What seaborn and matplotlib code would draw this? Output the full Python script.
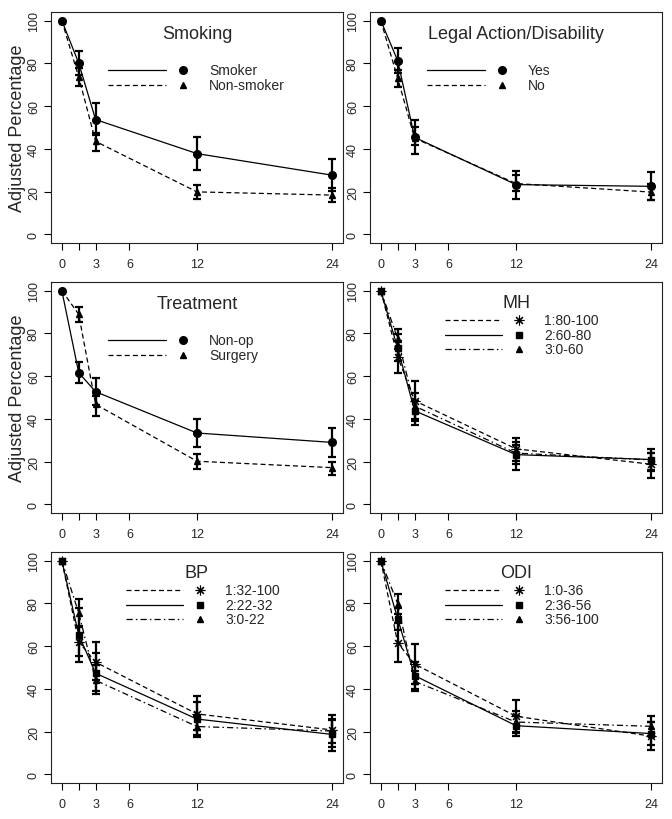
import matplotlib
matplotlib.use("Agg")
import matplotlib.pyplot as plt
import pandas as pd
import seaborn as sns

months = [0, 1.5, 3, 12, 24]
xtick_pos = [0, 1.5, 3, 6, 12, 24]
xtick_labels = ['0', '', '3', '6', '12', '24']
ytick_pos = [0, 20, 40, 60, 80, 100]

    # Smoking
smoker = [100, 80.1, 53.7, 37.8, 27.7]
smoker_lo = [100, 74.5, 46.5, 30.0, 20.2]
smoker_hi = [100, 85.8, 61.3, 45.7, 35.1]
nonsmoker = [100, 73.6, 43.5, 19.9, 18.4]
nonsmoker_lo = [100, 69.5, 39.2, 16.6, 15.4]
nonsmoker_hi = [100, 77.8, 47.4, 23.2, 21.5]

    # Legal Action/Disability
legal_yes = [100, 81.2, 45.4, 23.3, 22.5]
legal_yes_lo = [100, 75.5, 37.5, 16.8, 16.0]
legal_yes_hi = [100, 87.0, 53.3, 29.5, 29.1]
legal_no = [100, 73.0, 45.0, 23.8, 19.8]
legal_no_lo = [100, 69.0, 41.7, 20.2, 16.3]
legal_no_hi = [100, 77.0, 50.1, 27.7, 23.5]

    # Treatment
nonop = [100, 61.6, 52.7, 33.4, 29.0]
nonop_lo = [100, 56.6, 46.5, 27.0, 22.3]
nonop_hi = [100, 66.5, 59.3, 39.9, 35.6]
surgery = [100, 88.9, 46.8, 20.2, 17.2]
surgery_lo = [100, 85.5, 41.3, 16.8, 14.0]
surgery_hi = [100, 92.5, 50.8, 23.7, 20.0]

    # MH
mh1 = [100, 69.0, 48.5, 26.0, 18.8]
mh1_lo = [100, 61.5, 40.0, 20.5, 12.5]
mh1_hi = [100, 76.5, 57.5, 31.0, 24.0]
mh2 = [100, 73.0, 43.8, 23.3, 21.0]
mh2_lo = [100, 67.0, 39.0, 19.0, 16.3]
mh2_hi = [100, 79.5, 48.5, 27.8, 25.7]
mh3 = [100, 77.5, 46.0, 24.0, 20.8]
mh3_lo = [100, 72.5, 37.3, 16.3, 15.5]
mh3_hi = [100, 81.8, 52.0, 29.0, 24.0]

    # BP
bp1 = [100, 62.0, 52.5, 28.3, 20.8]
bp1_lo = [100, 55.5, 44.0, 21.0, 13.0]
bp1_hi = [100, 69.0, 61.8, 36.5, 28.0]
bp2 = [100, 65.3, 47.3, 25.9, 18.7]
bp2_lo = [100, 52.7, 39.0, 18.5, 11.0]
bp2_hi = [100, 78.0, 57.0, 34.0, 25.5]
bp3 = [100, 75.5, 44.0, 22.4, 20.3]
bp3_lo = [100, 69.5, 37.4, 17.6, 14.5]
bp3_hi = [100, 82.0, 51.0, 27.5, 26.0]

    # ODI
odi1 = [100, 61.5, 51.6, 27.2, 17.9]
odi1_lo = [100, 52.4, 42.5, 19.5, 11.4]
odi1_hi = [100, 70.8, 61.0, 35.0, 24.5]
odi2 = [100, 72.8, 46.2, 22.8, 19.1]
odi2_lo = [100, 67.5, 40.0, 18.0, 14.0]
odi2_hi = [100, 78.0, 52.5, 27.5, 24.5]
odi3 = [100, 79.8, 43.5, 24.5, 22.5]
odi3_lo = [100, 75.0, 38.9, 19.8, 18.0]
odi3_hi = [100, 84.3, 48.5, 29.5, 27.2]

solid = ''
dashed = (4, 2.5)
dashdot = (5, 2.5, 1.2, 2.5)
asterisk = (8, 2, 0)

panels = [
    ('Smoking', [('Smoker', smoker, smoker_lo, smoker_hi, solid, 'o'),
                 ('Non-smoker', nonsmoker, nonsmoker_lo, nonsmoker_hi, dashed, '^')]),
    ('Legal Action/Disability', [('Yes', legal_yes, legal_yes_lo, legal_yes_hi, solid, 'o'),
                                 ('No', legal_no, legal_no_lo, legal_no_hi, dashed, '^')]),
    ('Treatment', [('Non-op', nonop, nonop_lo, nonop_hi, solid, 'o'),
                   ('Surgery', surgery, surgery_lo, surgery_hi, dashed, '^')]),
    ('MH', [('1:80-100', mh1, mh1_lo, mh1_hi, dashed, asterisk),
            ('2:60-80', mh2, mh2_lo, mh2_hi, solid, 's'),
            ('3:0-60', mh3, mh3_lo, mh3_hi, dashdot, '^')]),
    ('BP', [('1:32-100', bp1, bp1_lo, bp1_hi, dashed, asterisk),
            ('2:22-32', bp2, bp2_lo, bp2_hi, solid, 's'),
            ('3:0-22', bp3, bp3_lo, bp3_hi, dashdot, '^')]),
    ('ODI', [('1:0-36', odi1, odi1_lo, odi1_hi, dashed, asterisk),
             ('2:36-56', odi2, odi2_lo, odi2_hi, solid, 's'),
             ('3:56-100', odi3, odi3_lo, odi3_hi, dashdot, '^')]),
]

sns.set_style("ticks")
plt.rcParams['font.family'] = ['Liberation Sans', 'DejaVu Sans']

fig = plt.figure(figsize=(6.72, 8.2), dpi=100)
W, H = 672, 820
col_left = [51, 370]
row_top = [13, 283, 553]
box_w, box_h = 292, 231

msize = {'o': 5.5, '^': 5.0, 's': 5.0, asterisk: 7.0}
mwidth = {'o': 1, '^': 1, 's': 1, asterisk: 0.8}

for i, (title, groups) in enumerate(panels):
    r, c = divmod(i, 2)
    ax = fig.add_axes([col_left[c] / W, 1 - (row_top[r] + box_h) / H, box_w / W, box_h / H])

    rows = []
    for name, vals, lo, hi, dash, mk in groups:
        for m, v in zip(months, vals):
            rows.append({'month': m, 'pct': v, 'group': name})
    df = pd.DataFrame(rows)
    sns.lineplot(data=df, x='month', y='pct', style='group',
                 dashes={g[0]: g[4] for g in groups}, color='black',
                 lw=0.9, legend=False, ax=ax, errorbar=None, sort=False)

    for name, vals, lo, hi, dash, mk in groups:
        ax.plot(months, vals, ls='none', marker=mk, ms=msize[mk], color='black', mew=mwidth[mk])
        err = [[v - l for v, l in zip(vals[1:], lo[1:])], [h - v for v, h in zip(vals[1:], hi[1:])]]
        ax.errorbar(months[1:], vals[1:], yerr=err, fmt='none', ecolor='black',
                    elinewidth=1.6, capsize=2.6, capthick=1.6)

    ax.set_xlim(-0.96, 24.96)
    ax.set_ylim(-4, 104)
    ax.set_xticks(xtick_pos)
    ax.set_xticklabels(xtick_labels)
    ax.set_yticks(ytick_pos)
    ax.set_yticklabels([str(t) for t in ytick_pos], rotation=90, va='center')
    ax.tick_params(axis='both', direction='out', length=5, width=0.8, labelsize=9, color='black')
    ax.tick_params(axis='x', pad=6)
    ax.tick_params(axis='y', pad=3)
    for sp in ax.spines.values():
        sp.set_linewidth(0.8)
        sp.set_color('#222222')
    ax.set_xlabel('')
    if c == 0 and r < 2:
        ax.set_ylabel('Adjusted Percentage', fontsize=13, labelpad=1)
    else:
        ax.set_ylabel('')

        # Legenda su pavadinimu
    ax.text(0.5, 0.905 if len(groups) == 2 else 0.91, title, transform=ax.transAxes,
            ha='center', va='center', fontsize=13)
    if len(groups) == 2:
        x0, x1, xm, xt, ys = 0.195, 0.394, 0.452, 0.541, [0.749, 0.684]
    else:
        x0, x1, xm, xt, ys = 0.256, 0.453, 0.51, 0.597, [0.835, 0.772, 0.708]
    for (name, vals, lo, hi, dash, mk), yy in zip(groups, ys):
        ln, = ax.plot([x0, x1], [yy, yy], transform=ax.transAxes, color='black', lw=0.9)
        if dash:
            ln.set_dashes(dash)
        ax.plot([xm], [yy], transform=ax.transAxes, ls='none', marker=mk, ms=msize[mk],
                color='black', mew=mwidth[mk])
        ax.text(xt, yy, name, transform=ax.transAxes, ha='left', va='center', fontsize=10)

fig.savefig('out.png', dpi=100)
